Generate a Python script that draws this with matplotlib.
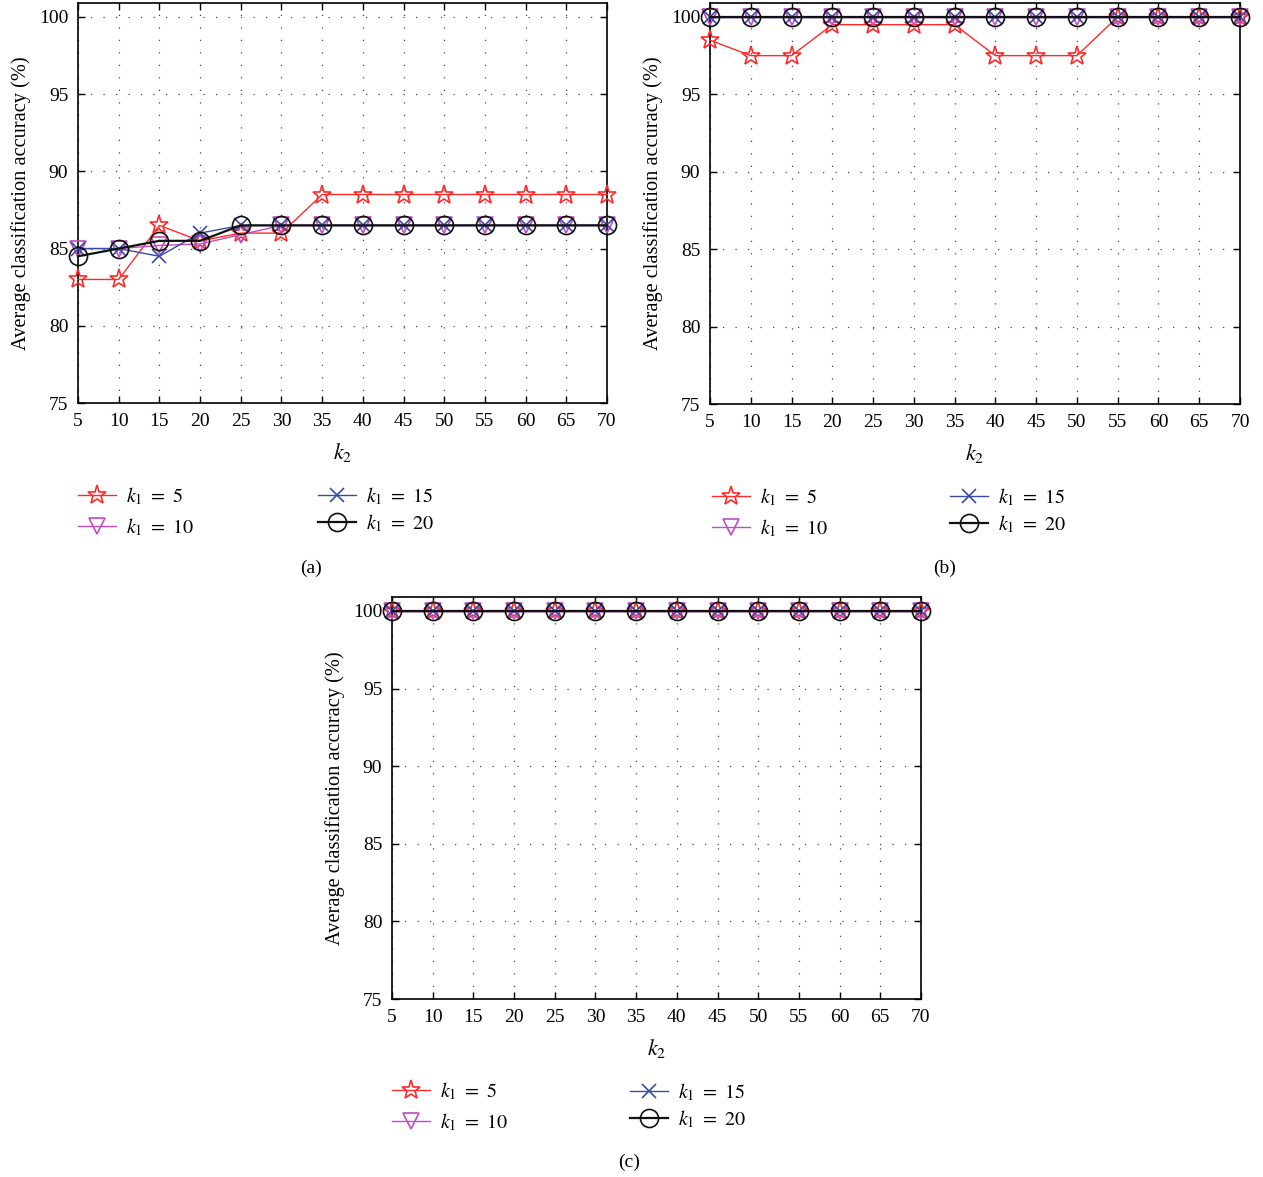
import matplotlib
matplotlib.use("Agg")
import matplotlib.pyplot as plt

plt.rcParams['font.family'] = ['Liberation Serif', 'DejaVu Serif']
plt.rcParams['mathtext.fontset'] = 'stix'

k2 = [5, 10, 15, 20, 25, 30, 35, 40, 45, 50, 55, 60, 65, 70]
k1_labels = [r'$k_1\ =\ 5$', r'$k_1\ =\ 10$', r'$k_1\ =\ 15$', r'$k_1\ =\ 20$']

# panel (a)
a_k1_5 = [83, 83, 86.5, 85.5, 86, 86, 88.5, 88.5, 88.5, 88.5, 88.5, 88.5, 88.5, 88.5]
a_k1_10 = [85, 85, 85.2, 85.3, 85.9, 86.5, 86.5, 86.5, 86.5, 86.5, 86.5, 86.5, 86.5, 86.5]
a_k1_15 = [85, 85, 84.5, 86, 86.5, 86.5, 86.5, 86.5, 86.5, 86.5, 86.5, 86.5, 86.5, 86.5]
a_k1_20 = [84.5, 85, 85.5, 85.5, 86.5, 86.5, 86.5, 86.5, 86.5, 86.5, 86.5, 86.5, 86.5, 86.5]

# panel (b)
b_k1_5 = [98.5, 97.5, 97.5, 99.5, 99.5, 99.5, 99.5, 97.5, 97.5, 97.5, 100, 100, 100, 100]
b_k1_10 = [100] * 14
b_k1_15 = [100] * 14
b_k1_20 = [100] * 14

# panel (c)
c_k1_5 = [100] * 14
c_k1_10 = [100] * 14
c_k1_15 = [100] * 14
c_k1_20 = [100] * 14

W, H = 1263, 1177
styles = [
    dict(color='#ff2a2a', marker='*', ms=14, lw=1.0),
    dict(color='#c04cc0', marker='v', ms=12, lw=1.0),
    dict(color='#3a4aa8', marker='x', ms=10, lw=1.0),
    dict(color='#111111', marker='o', ms=13, lw=1.6),
]


def px_axes(fig, left, top, right, bottom):
    return fig.add_axes([left / W, 1 - bottom / H, (right - left) / W, (bottom - top) / H])


def draw_panel(fig, box, series, leg_pos, tag, tag_pos):
    ax = px_axes(fig, *box)
    lines = []
    for vals, st, lab in zip(series, styles, k1_labels):
        ln, = ax.plot(k2, vals, color=st['color'], lw=st['lw'], marker=st['marker'],
                      ms=st['ms'], mfc='none', mec=st['color'], mew=1.2,
                      label=lab, clip_on=False, zorder=3)
        lines.append(ln)
    ax.set_xlim(5, 70)
    ax.set_ylim(75, 100.9)
    ax.set_xticks(k2)
    ax.set_yticks([75, 80, 85, 90, 95, 100])
    ax.tick_params(direction='in', top=True, right=True, labelsize=14, length=5,
                   width=1, pad=7)
    ax.grid(True, color='#444444', linestyle=(0, (1, 9)), linewidth=0.9)
    for sp in ax.spines.values():
        sp.set_linewidth(1.2)
    ax.set_xlabel(r'$k_2$', fontsize=16, labelpad=8)
    ax.set_ylabel('Average classification accuracy (%)', fontsize=14.7, labelpad=6)

    (x1, y1), (x2, y2) = leg_pos
    common = dict(loc='center left', frameon=False, fontsize=14.5,
                  handlelength=1.9, handletextpad=0.5, borderpad=0,
                  borderaxespad=0)
    fig.legend(lines[:2], k1_labels[:2], bbox_to_anchor=(x1 / W, 1 - y1 / H),
               labelspacing=0.45, **common)
    fig.legend(lines[2:], k1_labels[2:], bbox_to_anchor=(x2 / W, 1 - y2 / H),
               labelspacing=0.25, **common)
    fig.text(tag_pos[0] / W, 1 - tag_pos[1] / H, tag, fontsize=14,
             ha='center', va='center')
    return ax


fig = plt.figure(figsize=(W / 100, H / 100), dpi=100)

draw_panel(fig, (78, 3, 607, 403), [a_k1_5, a_k1_10, a_k1_15, a_k1_20],
           [(78, 512), (318, 510)], '(a)', (311, 568))
draw_panel(fig, (710, 3, 1240, 404), [b_k1_5, b_k1_10, b_k1_15, b_k1_20],
           [(712, 513), (950, 511)], '(b)', (945, 568))
draw_panel(fig, (392, 597, 921, 999), [c_k1_5, c_k1_10, c_k1_15, c_k1_20],
           [(392, 1107), (630, 1106)], '(c)', (629, 1162))

fig.savefig('out.png', dpi=100)
